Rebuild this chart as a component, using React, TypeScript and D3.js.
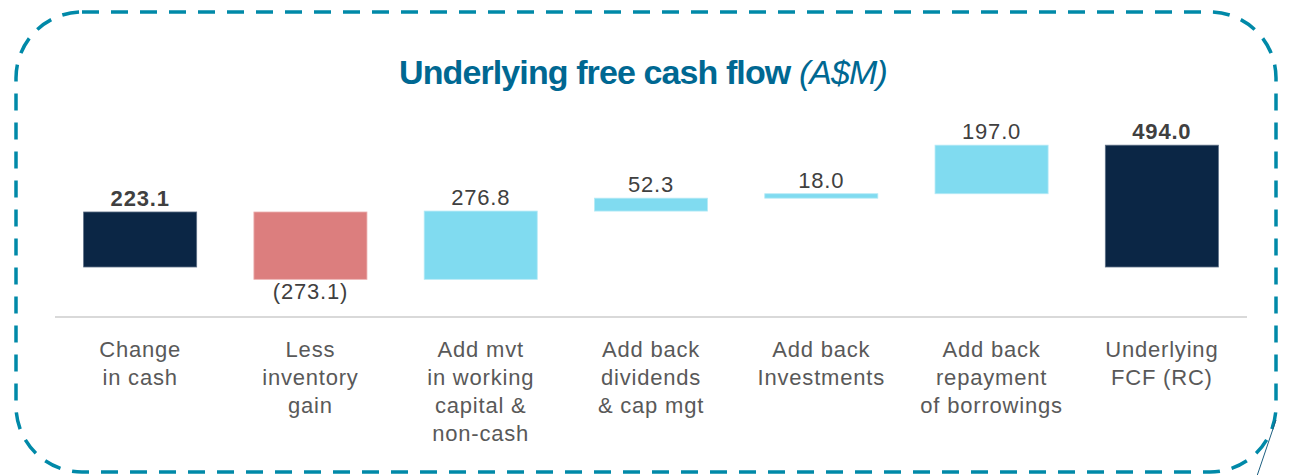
import React from "react";
import * as d3 from "d3";

const categories: string[][] = [
  ["Change", "in cash"],
  ["Less", "inventory", "gain"],
  ["Add mvt", "in working", "capital &", "non-cash"],
  ["Add back", "dividends", "& cap mgt"],
  ["Add back", "Investments"],
  ["Add back", "repayment", "of borrowings"],
  ["Underlying", "FCF (RC)"],
];
const values: number[] = [223.1, -273.1, 276.8, 52.3, 18.0, 197.0, 494.0];
const kinds: string[] = ["total", "neg", "pos", "pos", "pos", "pos", "total"];
const valueLabels: string[] = ["223.1", "(273.1)", "276.8", "52.3", "18.0", "197.0", "494.0"];

const W = 1292;
const H = 475;

export default function App() {
  const x = d3
    .scaleBand<number>()
    .domain(d3.range(values.length))
    .range([55, 1247])
    .paddingInner(0.336)
    .paddingOuter(0.168);
  const y = d3.scaleLinear().domain([0, 500]).range([267, 267 - 500 * 0.2466]);

  let running = 0;
  const bars = values.map((v, i) => {
    let y0: number, y1: number;
    if (kinds[i] === "total") {
      y0 = 0;
      y1 = v;
      running = v;
    } else {
      y0 = running;
      y1 = running + v;
      running = y1;
    }
    return { i, v, lo: Math.min(y0, y1), hi: Math.max(y0, y1), kind: kinds[i] };
  });

  const color = (k: string) =>
    k === "total" ? "#0B2645" : k === "neg" ? "#DC7E7E" : "#80DBF0";
  const stroke = (k: string) =>
    k === "total" ? "#5d6f86" : k === "neg" ? "#ecb3b3" : "#b5eaf6";

  const font = "'Liberation Sans', Arial, sans-serif";

  return (
    <svg
      width={W}
      height={H}
      style={{ position: "absolute", left: 0, top: 0, background: "#fff" }}
      fontFamily={font}
    >
      <rect
        x={16}
        y={12}
        width={1260}
        height={460}
        rx={66}
        ry={66}
        fill="none"
        stroke="#0089A8"
        strokeWidth={3.5}
        strokeDasharray="17 12"
      />
      <line x1={1276} y1={420} x2={1257} y2={476} stroke="#1d5f80" strokeWidth={1} />

      <text x={643} y={84} textAnchor="middle" fill="#006892" fontSize={34} letterSpacing={-0.9}>
        <tspan fontWeight="bold">Underlying free cash flow </tspan>
        <tspan fontStyle="italic">(A$M)</tspan>
      </text>

      <line x1={55} x2={1247} y1={317} y2={317} stroke="#d9d9d9" strokeWidth={2} />

      {bars.map((b) => (
        <rect
          key={b.i}
          x={x(b.i)}
          width={x.bandwidth()}
          y={y(b.hi)}
          height={Math.max(y(b.lo) - y(b.hi), 1)}
          fill={color(b.kind)}
          stroke={stroke(b.kind)}
          strokeWidth={0.8}
        />
      ))}

      {bars.map((b) => {
        const cx = (x(b.i) as number) + x.bandwidth() / 2;
        const ty = b.v < 0 ? y(b.lo) + 20 : y(b.hi) - 6;
        return (
          <text
            key={"v" + b.i}
            x={cx}
            y={ty}
            textAnchor="middle"
            fontSize={22}
            letterSpacing={0.8}
            fill="#404040"
            fontWeight={b.kind === "total" ? "bold" : "normal"}
          >
            {valueLabels[b.i]}
          </text>
        );
      })}

      {categories.map((lines, i) => {
        const cx = (x(i) as number) + x.bandwidth() / 2;
        return (
          <text
            key={"c" + i}
            x={cx}
            y={357}
            textAnchor="middle"
            fontSize={22}
            letterSpacing={0.8}
            fill="#595959"
          >
            {lines.map((l, j) => (
              <tspan key={j} x={cx} dy={j === 0 ? 0 : 28}>
                {l}
              </tspan>
            ))}
          </text>
        );
      })}
    </svg>
  );
}
